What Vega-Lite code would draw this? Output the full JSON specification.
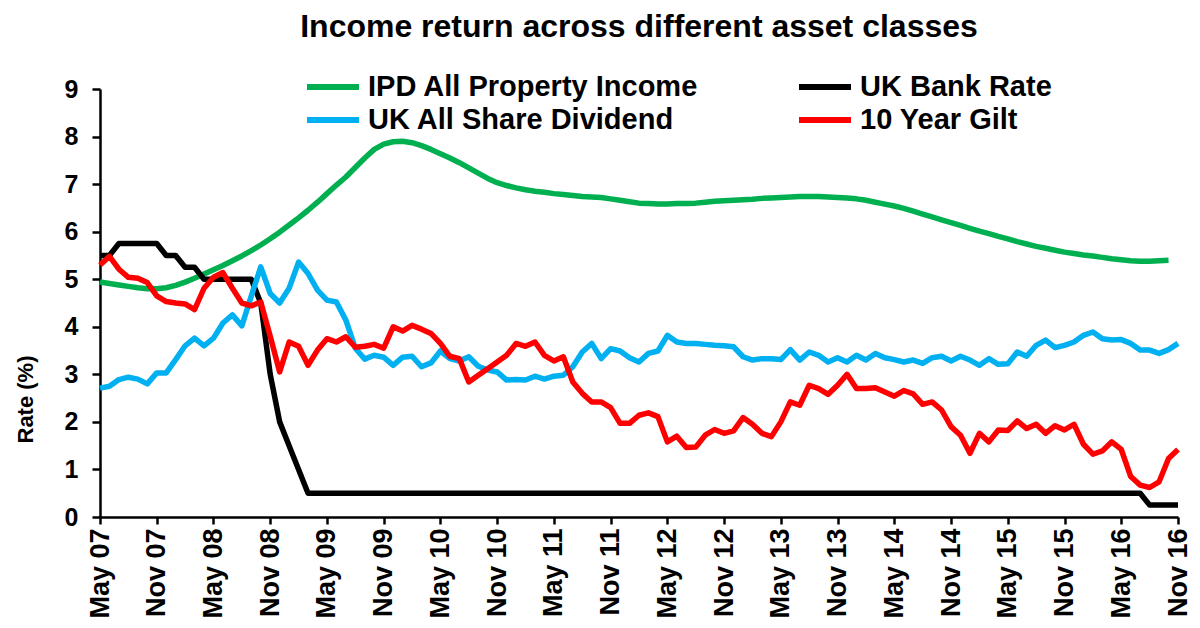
{
  "$schema": "https://vega.github.io/schema/vega-lite/v6.json",
  "width": 1078,
  "height": 428,
  "autosize": {"type": "none"},
  "padding": {"left": 100, "top": 89, "right": 22, "bottom": 111},
  "background": "white",
  "config": {
    "font": "Liberation Sans",
    "view": {"stroke": null},
    "axis": {"grid": false, "domainColor": "black", "tickColor": "black", "labelColor": "black", "titleColor": "black", "domainWidth": 2.5, "tickWidth": 2.5, "labelFontWeight": "bold", "titleFontWeight": "bold"}
  },
  "title": {"text": "Income return across different asset classes", "fontSize": 32, "fontWeight": "bold", "color": "black", "anchor": "middle", "frame": "group", "offset": 27},
  "data": {"values": [
    {"m":"May 07","a":4.94,"b":5.5,"c":2.71,"d":5.30},
    {"m":"Jun 07","a":4.91,"b":5.5,"c":2.75,"d":5.48},
    {"m":"Jul 07","a":4.88,"b":5.75,"c":2.89,"d":5.21},
    {"m":"Aug 07","a":4.85,"b":5.75,"c":2.94,"d":5.04},
    {"m":"Sep 07","a":4.82,"b":5.75,"c":2.90,"d":5.02},
    {"m":"Oct 07","a":4.80,"b":5.75,"c":2.80,"d":4.93},
    {"m":"Nov 07","a":4.80,"b":5.75,"c":3.03,"d":4.65},
    {"m":"Dec 07","a":4.82,"b":5.5,"c":3.03,"d":4.53},
    {"m":"Jan 08","a":4.87,"b":5.5,"c":3.31,"d":4.50},
    {"m":"Feb 08","a":4.94,"b":5.25,"c":3.60,"d":4.48},
    {"m":"Mar 08","a":5.02,"b":5.25,"c":3.76,"d":4.36},
    {"m":"Apr 08","a":5.11,"b":5.0,"c":3.60,"d":4.81},
    {"m":"May 08","a":5.20,"b":5.0,"c":3.76,"d":5.04},
    {"m":"Jun 08","a":5.29,"b":5.0,"c":4.08,"d":5.14},
    {"m":"Jul 08","a":5.39,"b":5.0,"c":4.25,"d":4.81},
    {"m":"Aug 08","a":5.49,"b":5.0,"c":4.02,"d":4.50},
    {"m":"Sep 08","a":5.60,"b":5.0,"c":4.65,"d":4.44},
    {"m":"Oct 08","a":5.72,"b":4.5,"c":5.26,"d":4.52},
    {"m":"Nov 08","a":5.85,"b":3.0,"c":4.70,"d":3.80},
    {"m":"Dec 08","a":5.99,"b":2.0,"c":4.50,"d":3.05},
    {"m":"Jan 09","a":6.14,"b":1.5,"c":4.81,"d":3.68},
    {"m":"Feb 09","a":6.29,"b":1.0,"c":5.36,"d":3.59},
    {"m":"Mar 09","a":6.45,"b":0.5,"c":5.12,"d":3.19},
    {"m":"Apr 09","a":6.62,"b":0.5,"c":4.77,"d":3.51},
    {"m":"May 09","a":6.80,"b":0.5,"c":4.56,"d":3.75},
    {"m":"Jun 09","a":6.98,"b":0.5,"c":4.52,"d":3.68},
    {"m":"Jul 09","a":7.15,"b":0.5,"c":4.14,"d":3.79},
    {"m":"Aug 09","a":7.35,"b":0.5,"c":3.55,"d":3.57},
    {"m":"Sep 09","a":7.55,"b":0.5,"c":3.32,"d":3.59},
    {"m":"Oct 09","a":7.73,"b":0.5,"c":3.40,"d":3.63},
    {"m":"Nov 09","a":7.84,"b":0.5,"c":3.36,"d":3.55},
    {"m":"Dec 09","a":7.89,"b":0.5,"c":3.19,"d":4.00},
    {"m":"Jan 10","a":7.90,"b":0.5,"c":3.36,"d":3.91},
    {"m":"Feb 10","a":7.87,"b":0.5,"c":3.38,"d":4.03},
    {"m":"Mar 10","a":7.81,"b":0.5,"c":3.16,"d":3.95},
    {"m":"Apr 10","a":7.73,"b":0.5,"c":3.24,"d":3.86},
    {"m":"May 10","a":7.64,"b":0.5,"c":3.49,"d":3.65},
    {"m":"Jun 10","a":7.55,"b":0.5,"c":3.33,"d":3.38},
    {"m":"Jul 10","a":7.45,"b":0.5,"c":3.28,"d":3.33},
    {"m":"Aug 10","a":7.34,"b":0.5,"c":3.37,"d":2.84},
    {"m":"Sep 10","a":7.23,"b":0.5,"c":3.17,"d":2.98},
    {"m":"Oct 10","a":7.12,"b":0.5,"c":3.09,"d":3.12},
    {"m":"Nov 10","a":7.03,"b":0.5,"c":3.05,"d":3.26},
    {"m":"Dec 10","a":6.97,"b":0.5,"c":2.88,"d":3.40},
    {"m":"Jan 11","a":6.92,"b":0.5,"c":2.89,"d":3.65},
    {"m":"Feb 11","a":6.88,"b":0.5,"c":2.88,"d":3.59},
    {"m":"Mar 11","a":6.85,"b":0.5,"c":2.96,"d":3.68},
    {"m":"Apr 11","a":6.83,"b":0.5,"c":2.90,"d":3.40},
    {"m":"May 11","a":6.80,"b":0.5,"c":2.96,"d":3.28},
    {"m":"Jun 11","a":6.78,"b":0.5,"c":2.98,"d":3.37},
    {"m":"Jul 11","a":6.76,"b":0.5,"c":3.16,"d":2.84},
    {"m":"Aug 11","a":6.74,"b":0.5,"c":3.47,"d":2.60},
    {"m":"Sep 11","a":6.73,"b":0.5,"c":3.65,"d":2.42},
    {"m":"Oct 11","a":6.72,"b":0.5,"c":3.33,"d":2.42},
    {"m":"Nov 11","a":6.69,"b":0.5,"c":3.54,"d":2.30},
    {"m":"Dec 11","a":6.66,"b":0.5,"c":3.49,"d":1.97},
    {"m":"Jan 12","a":6.63,"b":0.5,"c":3.35,"d":1.97},
    {"m":"Feb 12","a":6.60,"b":0.5,"c":3.26,"d":2.14},
    {"m":"Mar 12","a":6.59,"b":0.5,"c":3.44,"d":2.19},
    {"m":"Apr 12","a":6.58,"b":0.5,"c":3.49,"d":2.11},
    {"m":"May 12","a":6.58,"b":0.5,"c":3.82,"d":1.58},
    {"m":"Jun 12","a":6.59,"b":0.5,"c":3.68,"d":1.70},
    {"m":"Jul 12","a":6.59,"b":0.5,"c":3.65,"d":1.46},
    {"m":"Aug 12","a":6.60,"b":0.5,"c":3.65,"d":1.47},
    {"m":"Sep 12","a":6.62,"b":0.5,"c":3.63,"d":1.72},
    {"m":"Oct 12","a":6.64,"b":0.5,"c":3.61,"d":1.84},
    {"m":"Nov 12","a":6.65,"b":0.5,"c":3.60,"d":1.76},
    {"m":"Dec 12","a":6.66,"b":0.5,"c":3.58,"d":1.81},
    {"m":"Jan 13","a":6.67,"b":0.5,"c":3.37,"d":2.09},
    {"m":"Feb 13","a":6.68,"b":0.5,"c":3.30,"d":1.95},
    {"m":"Mar 13","a":6.70,"b":0.5,"c":3.33,"d":1.76},
    {"m":"Apr 13","a":6.71,"b":0.5,"c":3.33,"d":1.69},
    {"m":"May 13","a":6.72,"b":0.5,"c":3.31,"d":2.00},
    {"m":"Jun 13","a":6.73,"b":0.5,"c":3.52,"d":2.42},
    {"m":"Jul 13","a":6.74,"b":0.5,"c":3.30,"d":2.35},
    {"m":"Aug 13","a":6.74,"b":0.5,"c":3.47,"d":2.77},
    {"m":"Sep 13","a":6.74,"b":0.5,"c":3.40,"d":2.70},
    {"m":"Oct 13","a":6.73,"b":0.5,"c":3.26,"d":2.58},
    {"m":"Nov 13","a":6.72,"b":0.5,"c":3.35,"d":2.77},
    {"m":"Dec 13","a":6.71,"b":0.5,"c":3.26,"d":3.00},
    {"m":"Jan 14","a":6.69,"b":0.5,"c":3.40,"d":2.70},
    {"m":"Feb 14","a":6.66,"b":0.5,"c":3.30,"d":2.70},
    {"m":"Mar 14","a":6.62,"b":0.5,"c":3.44,"d":2.72},
    {"m":"Apr 14","a":6.58,"b":0.5,"c":3.35,"d":2.63},
    {"m":"May 14","a":6.54,"b":0.5,"c":3.31,"d":2.54},
    {"m":"Jun 14","a":6.49,"b":0.5,"c":3.26,"d":2.66},
    {"m":"Jul 14","a":6.43,"b":0.5,"c":3.30,"d":2.59},
    {"m":"Aug 14","a":6.37,"b":0.5,"c":3.23,"d":2.37},
    {"m":"Sep 14","a":6.31,"b":0.5,"c":3.35,"d":2.42},
    {"m":"Oct 14","a":6.25,"b":0.5,"c":3.38,"d":2.25},
    {"m":"Nov 14","a":6.19,"b":0.5,"c":3.28,"d":1.90},
    {"m":"Dec 14","a":6.13,"b":0.5,"c":3.38,"d":1.72},
    {"m":"Jan 15","a":6.07,"b":0.5,"c":3.30,"d":1.34},
    {"m":"Feb 15","a":6.01,"b":0.5,"c":3.19,"d":1.76},
    {"m":"Mar 15","a":5.96,"b":0.5,"c":3.33,"d":1.58},
    {"m":"Apr 15","a":5.90,"b":0.5,"c":3.21,"d":1.83},
    {"m":"May 15","a":5.85,"b":0.5,"c":3.22,"d":1.82},
    {"m":"Jun 15","a":5.79,"b":0.5,"c":3.47,"d":2.02},
    {"m":"Jul 15","a":5.74,"b":0.5,"c":3.38,"d":1.86},
    {"m":"Aug 15","a":5.69,"b":0.5,"c":3.61,"d":1.95},
    {"m":"Sep 15","a":5.65,"b":0.5,"c":3.72,"d":1.76},
    {"m":"Oct 15","a":5.61,"b":0.5,"c":3.56,"d":1.92},
    {"m":"Nov 15","a":5.57,"b":0.5,"c":3.61,"d":1.83},
    {"m":"Dec 15","a":5.54,"b":0.5,"c":3.68,"d":1.95},
    {"m":"Jan 16","a":5.51,"b":0.5,"c":3.82,"d":1.53},
    {"m":"Feb 16","a":5.49,"b":0.5,"c":3.89,"d":1.32},
    {"m":"Mar 16","a":5.46,"b":0.5,"c":3.75,"d":1.39},
    {"m":"Apr 16","a":5.43,"b":0.5,"c":3.72,"d":1.58},
    {"m":"May 16","a":5.41,"b":0.5,"c":3.73,"d":1.42},
    {"m":"Jun 16","a":5.39,"b":0.5,"c":3.65,"d":0.85},
    {"m":"Jul 16","a":5.38,"b":0.5,"c":3.51,"d":0.67},
    {"m":"Aug 16","a":5.38,"b":0.25,"c":3.51,"d":0.62},
    {"m":"Sep 16","a":5.39,"b":0.25,"c":3.44,"d":0.74},
    {"m":"Oct 16","a":5.40,"b":0.25,"c":3.52,"d":1.23},
    {"m":"Nov 16","b":0.25,"c":3.65,"d":1.42}
  ]},
  "transform": [
    {"fold": ["a", "b", "c", "d"], "as": ["k", "v"]},
    {"filter": "isValid(datum.v)"}
  ],
  "mark": {"type": "line", "strokeWidth": 5.5, "strokeJoin": "round", "strokeCap": "butt"},
  "encoding": {
    "x": {
      "field": "m", "type": "ordinal", "sort": null,
      "scale": {"type": "point", "padding": 0},
      "axis": {
        "title": null,
        "values": ["May 07","Nov 07","May 08","Nov 08","May 09","Nov 09","May 10","Nov 10","May 11","Nov 11","May 12","Nov 12","May 13","Nov 13","May 14","Nov 14","May 15","Nov 15","May 16","Nov 16"],
        "labelAngle": -90, "labelAlign": "right", "labelBaseline": "middle",
        "labelFontSize": 27, "labelPadding": 4, "tickSize": 7
      }
    },
    "y": {
      "field": "v", "type": "quantitative",
      "scale": {"domain": [0, 9], "nice": false},
      "axis": {
        "values": [0,1,2,3,4,5,6,7,8,9],
        "labelFontSize": 25, "labelPadding": 14, "tickSize": 8,
        "title": "Rate (%)", "titleFontSize": 22, "titleX": -75, "titleY": 310, "titleAlign": "center", "titleBaseline": "middle", "titleAngle": -90
      }
    },
    "color": {
      "field": "k", "type": "nominal",
      "scale": {"domain": ["a", "b", "c", "d"], "range": ["#00B050", "#000000", "#00B0F0", "#FF0000"]},
      "legend": {
        "orient": "none", "legendX": 217, "legendY": -18, "columns": 2, "direction": "horizontal",
        "title": null, "symbolType": "M-2,0L2,0", "symbolSize": 676, "symbolStrokeWidth": 6,
        "labelFontSize": 29, "labelFontWeight": "bold", "labelColor": "black", "labelOffset": 19,
        "columnPadding": 88, "rowPadding": 2, "labelLimit": 500,
        "labelExpr": "datum.label == 'a' ? 'IPD All Property Income' : datum.label == 'b' ? 'UK Bank Rate' : datum.label == 'c' ? 'UK All Share Dividend' : '10 Year Gilt'"
      }
    }
  }
}
